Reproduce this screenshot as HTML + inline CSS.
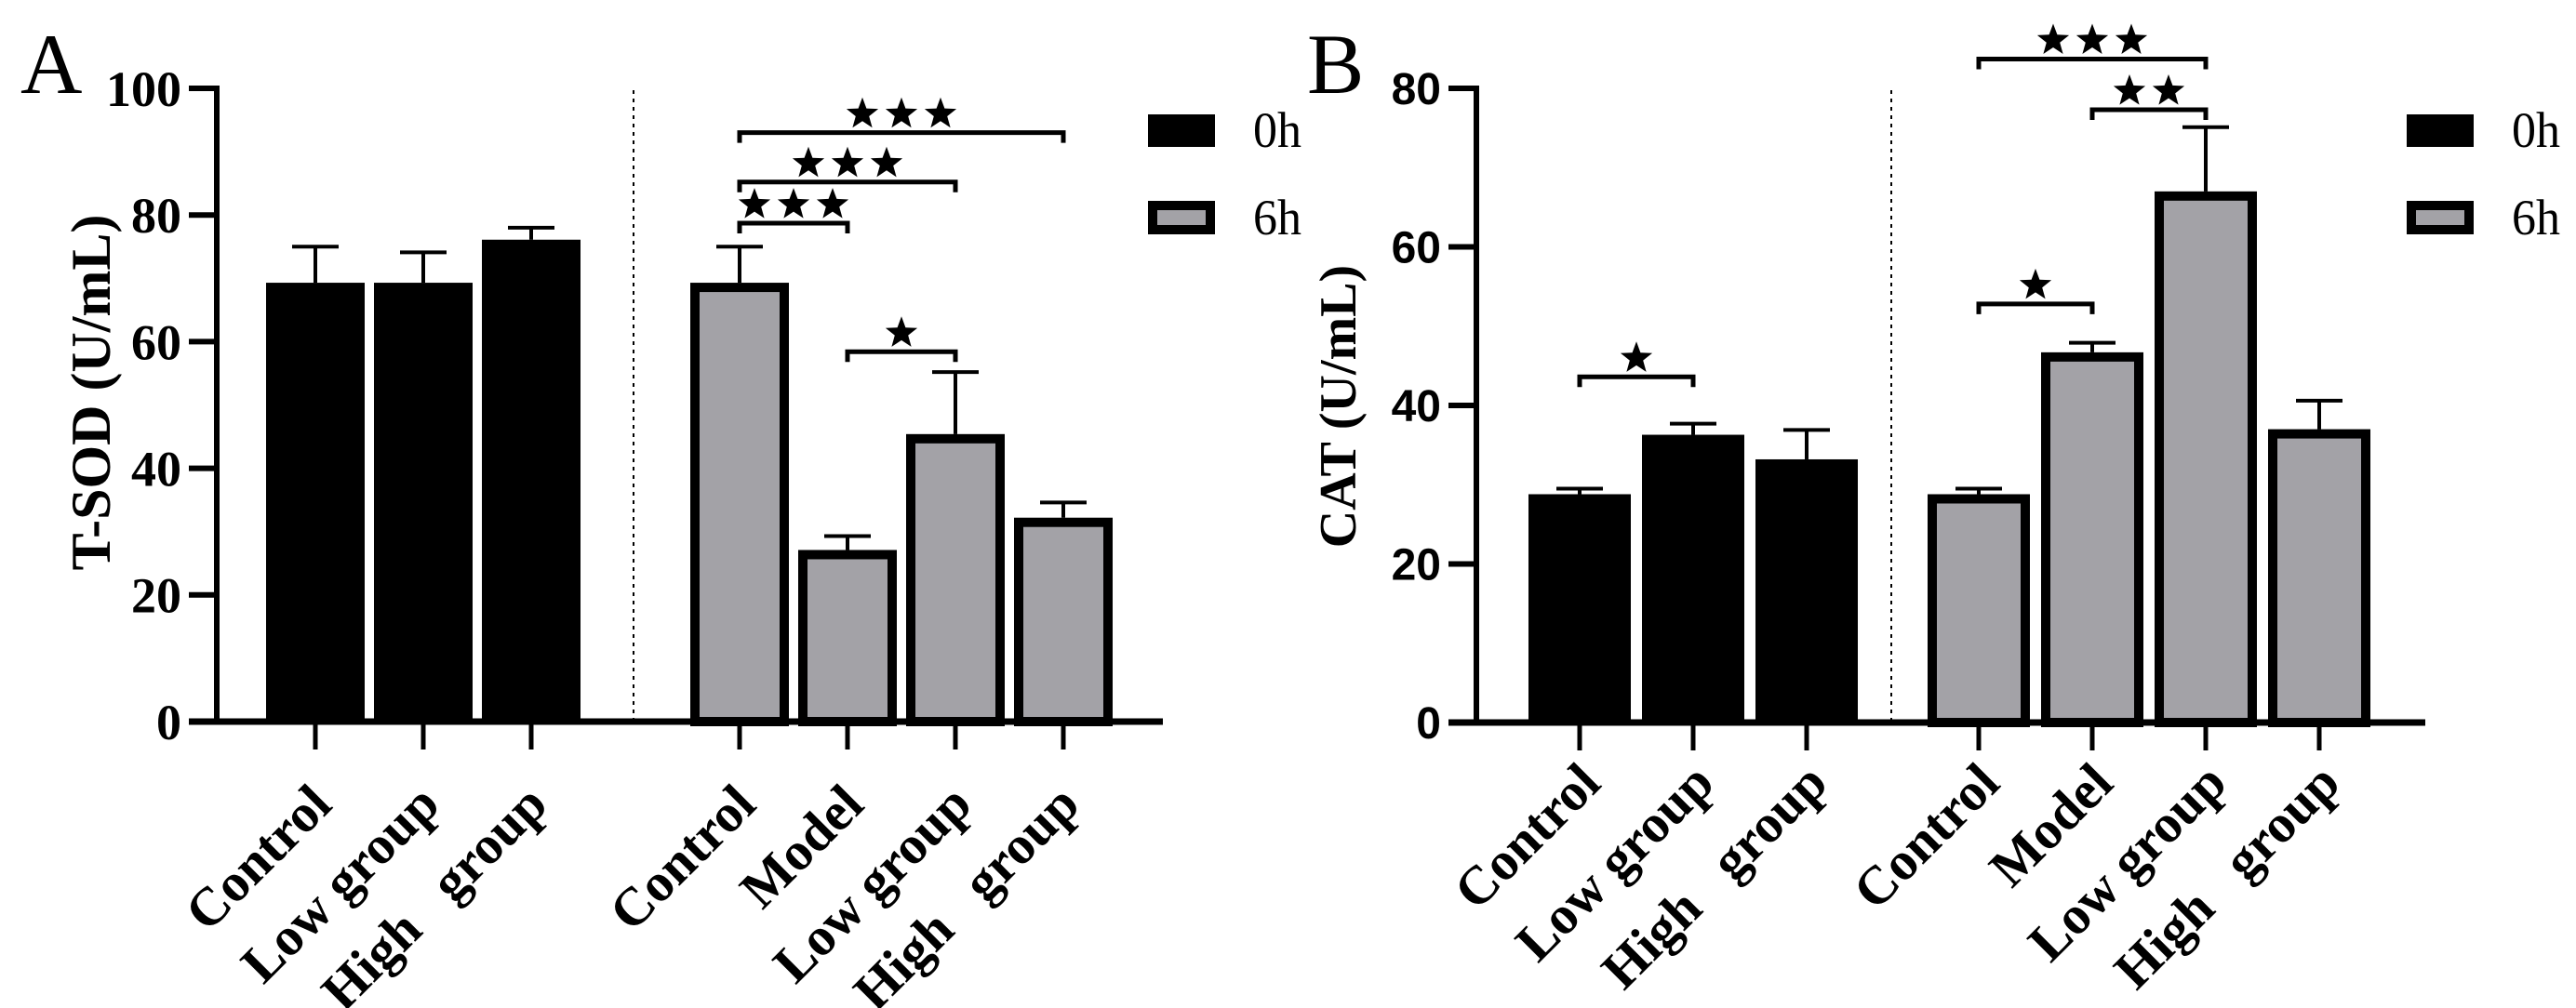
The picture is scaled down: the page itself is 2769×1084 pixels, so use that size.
<!DOCTYPE html>
<html><head><meta charset="utf-8"><style>
html,body{margin:0;padding:0;background:#fff;overflow:hidden;}
svg{display:block;}
</style></head><body>
<svg id="fig" width="2769" height="1084" viewBox="0 0 2769 1084" xmlns="http://www.w3.org/2000/svg">
<g id="chartA"></g>
<g id="chartB"></g>
</svg>
<script>
// ---- Chart A data (T-SOD) ----
const catsA0 = ["Control", "Low group", "High   group"];
const catsA6 = ["Control", "Model", "Low group", "High   group"];
const valsA0 = [69.3, 69.3, 76.1];
const errsA0 = [75.0, 74.1, 78.0];
const valsA6 = [69.3, 27.1, 45.4, 32.2];
const errsA6 = [75.0, 29.3, 55.2, 34.6];
const ticksA = [0, 20, 40, 60, 80, 100];
const sigA = [[0, 3, 3, 93.0], [0, 2, 3, 85.2], [0, 1, 3, 78.7], [1, 2, 1, 58.4]]; // [from, to, stars, y-value] within 6h group
const sigA0 = [];
// ---- Chart B data (CAT) ----
const catsB0 = ["Control", "Low group", "High   group"];
const catsB6 = ["Control", "Model", "Low group", "High   group"];
const valsB0 = [28.8, 36.3, 33.2];
const errsB0 = [29.5, 37.7, 36.9];
const valsB6 = [28.8, 46.7, 67.0, 37.0];
const errsB6 = [29.5, 47.9, 75.1, 40.6];
const ticksB = [0, 20, 40, 60, 80];
const sigB = [[0, 2, 3, 83.7], [1, 2, 2, 77.3], [0, 1, 1, 52.8]];
const sigB0 = [[0, 1, 1, 43.6]];

const NS = "http://www.w3.org/2000/svg";
function el(parent, tag, attrs) {
  const e = document.createElementNS(NS, tag);
  for (const k in attrs) e.setAttribute(k, attrs[k]);
  parent.appendChild(e);
  return e;
}
function starPts(cx, cy, r) {
  const p = [];
  for (let i = 0; i < 10; i++) {
    const a = -Math.PI / 2 + i * Math.PI / 5;
    const rr = i % 2 ? r * 0.42 : r;
    p.push((cx + rr * Math.cos(a)).toFixed(1) + "," + (cy + rr * Math.sin(a)).toFixed(1));
  }
  return p.join(" ");
}

function drawChart(g, cfg) {
  const y = v => cfg.y0 - v * cfg.ppu;
  const x0 = i => cfg.c0 + i * cfg.pitch;
  const x6 = i => cfg.c6 + i * cfg.pitch;
  const serifB = '"Liberation Serif", serif';
  const L = el(g, "text", {x: cfg.letterX, y: 100, "font-family": serifB, "font-size": 92, fill: "#000"});
  L.textContent = cfg.letter;
  
  
  const t = el(g, "text", {x: 0, y: 0, transform: `translate(${cfg.titleX},${cfg.titleY}) rotate(-90)`, "text-anchor": "middle", "font-family": serifB, "font-weight": "bold", "font-size": cfg.titleSize, fill: "#000"});
  t.textContent = cfg.title;
  
  
  const ax = el(g, "line", {x1: cfg.axisX, x2: cfg.axisX, y1: y(cfg.ticks[cfg.ticks.length - 1]) - 3, y2: cfg.y0 + 3, stroke: "#000", "stroke-width": 6});
  
  
  cfg.ticks.forEach(v => {
    const tk = el(g, "line", {x1: cfg.axisX - 30, x2: cfg.axisX, y1: y(v), y2: y(v), stroke: "#000", "stroke-width": 6});
    
    
    const tl = el(g, "text", {x: cfg.axisX - 38, y: y(v) + cfg.tickFont * 0.35, "text-anchor": "end", "font-family": cfg.tickFamily, "font-weight": "bold", "font-size": cfg.tickFont, fill: "#000"});
    tl.textContent = v;
    
    
  });
  const bl = el(g, "line", {x1: cfg.axisX - 30, x2: cfg.axisEnd, y1: cfg.y0, y2: cfg.y0, stroke: "#000", "stroke-width": 7});
  
  
  const dv = el(g, "line", {x1: cfg.divX, x2: cfg.divX, y1: 97, y2: cfg.y0, stroke: "#000", "stroke-width": 2, "stroke-dasharray": "4 5"});
  
  
  const w = cfg.barW;
  function bar(cx, v, e, gray, name) {
    if (gray) {
      const r = el(g, "rect", {x: cx - w / 2 + 5, y: y(v) + 5, width: w - 10, height: cfg.y0 - y(v) - 5, fill: "#a3a2a7", stroke: "#000", "stroke-width": 10});
      
      
    } else {
      const r = el(g, "rect", {x: cx - w / 2, y: y(v), width: w, height: cfg.y0 - y(v), fill: "#000"});
      
      
    }
    const l1 = el(g, "line", {x1: cx, x2: cx, y1: y(v), y2: y(e), stroke: "#000", "stroke-width": 4});
    
    
    const l2 = el(g, "line", {x1: cx - 25, x2: cx + 25, y1: y(e), y2: y(e), stroke: "#000", "stroke-width": 4});
    
    
  }
  function xlabel(cx, txt) {
    const tk = el(g, "line", {x1: cx, x2: cx, y1: cfg.y0, y2: cfg.y0 + 30, stroke: "#000", "stroke-width": 5});
    
    
    const lx = cx + cfg.lblDx, ly = cfg.lblY;
    const tx = el(g, "text", {x: 0, y: 0, transform: `translate(${lx},${ly}) rotate(-45)`, "text-anchor": "end", "font-family": serifB, "font-weight": "bold", "font-size": 58, fill: "#000"});
    tx.setAttribute("style", "white-space:pre");
    tx.textContent = txt;
    
    
  }
  cfg.v0.forEach((v, i) => { bar(x0(i), v, cfg.e0[i], false, 'bar-0h'); xlabel(x0(i), cfg.cat0[i]); });
  cfg.v6.forEach((v, i) => { bar(x6(i), v, cfg.e6[i], true, 'bar-6h'); xlabel(x6(i), cfg.cat6[i]); });
  function sig(list, xf) {
    list.forEach(s => {
      const xa = xf(s[0]), xb = xf(s[1]), yy = y(s[3]);
      const p = el(g, "path", {d: `M${xa},${yy + 11} V${yy} H${xb} V${yy + 11}`, fill: "none", stroke: "#000", "stroke-width": 5});
      
      
      const mid = (xa + xb) / 2;
      for (let k = 0; k < s[2]; k++) {
        const sx = mid + (k - (s[2] - 1) / 2) * 42;
        const st = el(g, "polygon", {points: starPts(sx, yy - 20, 18), fill: "#000"});
        
        
      }
    });
  }
  sig(cfg.sig6, x6);
  sig(cfg.sig0, x0);
  const r1 = el(g, "rect", {x: cfg.legX, y: 123, width: 72, height: 35, fill: "#000"});
  
  
  const r2 = el(g, "rect", {x: cfg.legX + 5, y: 221, width: 62, height: 26, fill: "#a3a2a7", stroke: "#000", "stroke-width": 10});
  
  
  [["0h", 158], ["6h", 252]].forEach(([s, yy]) => {
    const lt = el(g, "text", {x: cfg.legX + 113, y: yy, "font-family": serifB, "font-size": 54, fill: "#000", textLength: 52, lengthAdjust: "spacingAndGlyphs"});
    lt.textContent = s;
    
    
  });
}

drawChart(document.getElementById("chartA"), {
  letter: "A", letterX: 22, title: "T-SOD (U/mL)", titleX: 118, titleY: 422, titleSize: 60,
  axisX: 233, axisEnd: 1250, y0: 776, ppu: 6.81, ticks: ticksA,
  tickFamily: '"Liberation Serif", serif', tickFont: 54,
  c0: 339, c6: 795, pitch: 116, barW: 106, divX: 681,
  v0: valsA0, e0: errsA0, v6: valsA6, e6: errsA6, cat0: catsA0, cat6: catsA6,
  sig6: sigA, sig0: sigA0, lblDx: 20, lblY: 868, legX: 1234
});
drawChart(document.getElementById("chartB"), {
  letter: "B", letterX: 1405, title: "CAT (U/mL)", titleX: 1457, titleY: 437, titleSize: 56,
  axisX: 1587, axisEnd: 2607, y0: 777, ppu: 8.525, ticks: ticksB,
  tickFamily: '"Liberation Sans", sans-serif', tickFont: 48,
  c0: 1698, c6: 2127, pitch: 122, barW: 110, divX: 2033,
  v0: valsB0, e0: errsB0, v6: valsB6, e6: errsB6, cat0: catsB0, cat6: catsB6,
  sig6: sigB, sig0: sigB0, lblDx: 25, lblY: 845, legX: 2587
});
</script>
</body></html>
